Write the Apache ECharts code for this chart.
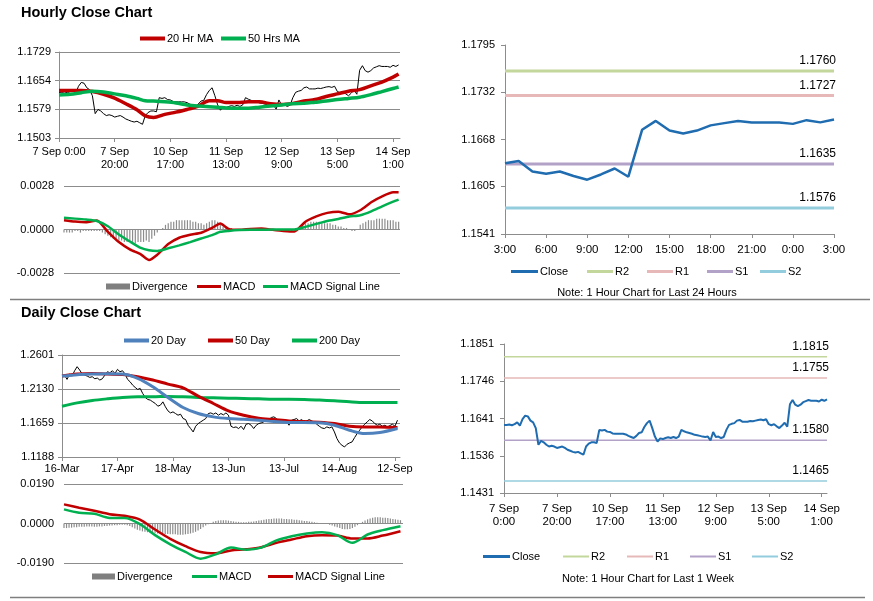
<!DOCTYPE html>
<html>
<head>
<meta charset="utf-8">
<script src="https://cdn.jsdelivr.net/npm/echarts@6/dist/echarts.min.js"></script>
<style>
html, body { margin: 0; padding: 0; background: #fff; }
#chart { width: 873px; height: 601px; }
</style>
</head>
<body>
<div id="chart"></div>
<script>
// hourly closes, 7 Sep 0:00 .. 14 Sep 3:00 (123 bars)
const hourlyClose = [
	1.1623, 1.1623, 1.1624, 1.1622, 1.1625, 1.1630, 1.1621, 1.1639, 1.1649, 1.1647,
	1.1635, 1.1630, 1.1614, 1.1567, 1.1578, 1.1574, 1.1567, 1.1562, 1.1564, 1.1562,
	1.1558, 1.1560, 1.1562, 1.1558, 1.1553, 1.1550, 1.1547, 1.1545, 1.1547, 1.1543,
	1.1539, 1.1562, 1.1570, 1.1574, 1.1574, 1.1572, 1.1609, 1.1607, 1.1609, 1.1604,
	1.1603, 1.1599, 1.1598, 1.1598, 1.1598, 1.1598, 1.1596, 1.1592, 1.1589, 1.1586,
	1.1592, 1.1600, 1.1602, 1.1617, 1.1628, 1.1635, 1.1614, 1.1590, 1.1576, 1.1585,
	1.1583, 1.1586, 1.1588, 1.1586, 1.1589, 1.1586, 1.1590, 1.1609, 1.1605, 1.1602,
	1.1600, 1.1598, 1.1595, 1.1594, 1.1592, 1.1590, 1.1589, 1.1590, 1.1579, 1.1603,
	1.1589, 1.1590, 1.1586, 1.1589, 1.1609, 1.1623, 1.1626, 1.1628, 1.1635, 1.1637,
	1.1632, 1.1632, 1.1632, 1.1634, 1.1633, 1.1635, 1.1637, 1.1638, 1.1636, 1.1639,
	1.1625, 1.1622, 1.1625, 1.1619, 1.1614, 1.1621, 1.1629, 1.1618, 1.1681, 1.1693,
	1.1680, 1.1676, 1.1680, 1.1687, 1.1690, 1.1693, 1.1691, 1.1691, 1.1691, 1.1689,
	1.1694, 1.1691, 1.1695
];
// last 24 hours = last 25 hourly bars
const last24 = hourlyClose.slice(-25);

// moving averages / macd of the hourly chart, read at these bar numbers
const hourSampleIdx = [0, 4, 8, 12, 16, 20, 24, 28, 31, 34, 38, 42, 46, 50, 54, 57, 60, 64, 68, 72, 76, 80, 84, 88, 92, 96, 100, 104, 108, 112, 116, 120, 122];
const ma20Hour = [1.1628, 1.1628, 1.1628, 1.1625, 1.1618, 1.1608, 1.1593, 1.1577, 1.1561, 1.1557, 1.1565, 1.1571, 1.1578, 1.1587, 1.1601, 1.1601, 1.1596, 1.1596, 1.1598, 1.1598, 1.1593, 1.1591, 1.1594, 1.1600, 1.1604, 1.1612, 1.1619, 1.1626, 1.1630, 1.1640, 1.1650, 1.1663, 1.1671];
const ma50Hour = [1.1616, 1.1618, 1.1622, 1.1626, 1.1624, 1.1619, 1.1614, 1.1607, 1.1601, 1.1600, 1.1598, 1.1595, 1.1590, 1.1587, 1.1585, 1.1584, 1.1582, 1.1581, 1.1581, 1.1584, 1.1587, 1.1590, 1.1593, 1.1594, 1.1597, 1.1600, 1.1604, 1.1607, 1.1610, 1.1617, 1.1625, 1.1633, 1.1637];
const macdHour = [0.0006, 0.00051, 0.00047, 0.00058, -0.00015, -0.00081, -0.00128, -0.0016, -0.00196, -0.00162, -0.00094, -0.00053, -0.00034, -0.00021, 0.00011, 0.00038, 0.00004, -0.00002, 0.00004, 0.00006, -0.00002, -0.00009, -0.00013, 0.0005, 0.00085, 0.00107, 0.00115, 0.00098, 0.00124, 0.00175, 0.00213, 0.00239, 0.00239];
const signalHour = [0.00075, 0.0007, 0.00064, 0.00055, 0.00021, -0.00032, -0.00077, -0.00119, -0.00134, -0.00138, -0.00121, -0.00102, -0.00081, -0.00058, -0.00036, -0.00015, -0.00009, -0.00004, -0.00002, -0.00002, 0, 0, 0, 0.00017, 0.00036, 0.00055, 0.00068, 0.00083, 0.00092, 0.00117, 0.00149, 0.00179, 0.00192];
const divergenceHour = [
	-0.0002, -0.0002, -0.0002, -0.0002, -0.0001, -0.0001, -0.0002, -0.0001, -0.0001, -0.0001, -0.0001, -0.0001, -0.0001,
	-0.0001, -0.0002, -0.0003, -0.0004, -0.0005, -0.0006, -0.0006, -0.0007, -0.0007, -0.0008, -0.0008, -0.0008, -0.0008, -0.0009, -0.0008, -0.0008, -0.0008, -0.0007, -0.0008, -0.0006, -0.0004, -0.0002,
	0.0000, 0.0001, 0.0003, 0.0004, 0.0005, 0.0005, 0.0006, 0.0006, 0.0006, 0.0006, 0.0006, 0.0006, 0.0005, 0.0005, 0.0004, 0.0004, 0.0003, 0.0004, 0.0005, 0.0006, 0.0006, 0.0005, 0.0003, 0.0002, 0.0001, 0.0001,
	0.0001, 0, 0, 0, 0, 0, 0.0001, 0.0001, 0.0001, 0.0001, 0, 0, 0, 0, 0, 0, -0.0001, -0.0001, 0, -0.0001, -0.0001, -0.0001, -0.0001, 0, 0.0001,
	0.0002, 0.0003, 0.0004, 0.0004, 0.0005, 0.0005, 0.0005, 0.0005, 0.0004, 0.0004, 0.0004, 0.0004, 0.0003, 0.0003, 0.0002, 0.0002, 0.0001, 0.0001, 0, -0.0001, -0.0001, 0,
	0.0003, 0.0004, 0.0005, 0.0006, 0.0006, 0.0006, 0.0007, 0.0007, 0.0007, 0.0007, 0.0006, 0.0006, 0.0006, 0.0005, 0.0005
];

// daily closes, 16 Mar .. 14 Sep (134 days)
const dailyClose = [
	1.2300, 1.2323, 1.2263, 1.2337, 1.2309, 1.2383, 1.2439, 1.2393, 1.2337, 1.2323,
	1.2309, 1.2291, 1.2300, 1.2272, 1.2281, 1.2254, 1.2272, 1.2323, 1.2369, 1.2355,
	1.2383, 1.2346, 1.2402, 1.2369, 1.2383, 1.2337, 1.2263, 1.2230, 1.2184, 1.2152,
	1.2124, 1.2138, 1.2068, 1.2013, 1.1985, 1.1976, 1.1952, 1.1929, 1.1892, 1.1906,
	1.1952, 1.1883, 1.1827, 1.1799, 1.1813, 1.1790, 1.1767, 1.1781, 1.1721, 1.1707,
	1.1628, 1.1582, 1.1535, 1.1614, 1.1651, 1.1675, 1.1698, 1.1721, 1.1790, 1.1799,
	1.1781, 1.1799, 1.1767, 1.1790, 1.1772, 1.1799, 1.1767, 1.1614, 1.1596, 1.1605,
	1.1582, 1.1614, 1.1568, 1.1642, 1.1651, 1.1628, 1.1582, 1.1628, 1.1651, 1.1661,
	1.1675, 1.1698, 1.1707, 1.1735, 1.1744, 1.1721, 1.1688, 1.1707, 1.1698, 1.1675,
	1.1628, 1.1698, 1.1707, 1.1721, 1.1688, 1.1707, 1.1675, 1.1688, 1.1707, 1.1688,
	1.1670, 1.1642, 1.1614, 1.1591, 1.1582, 1.1605, 1.1591, 1.1605, 1.1535, 1.1443,
	1.1383, 1.1350, 1.1327, 1.1364, 1.1383, 1.1397, 1.1457, 1.1512, 1.1559, 1.1605,
	1.1642, 1.1675, 1.1707, 1.1688, 1.1651, 1.1628, 1.1642, 1.1614, 1.1628, 1.1605,
	1.1624, 1.1642, 1.1614, 1.1698
];
const daySampleIdx = [0, 6, 12, 18, 24, 30, 36, 42, 48, 54, 60, 66, 72, 78, 84, 90, 96, 102, 108, 114, 120, 126, 133];
const ma20Day = [1.2309, 1.2328, 1.2337, 1.2342, 1.2337, 1.2277, 1.2161, 1.2013, 1.1874, 1.1790, 1.1744, 1.1721, 1.1712, 1.1698, 1.1679, 1.1665, 1.1665, 1.1661, 1.1628, 1.1559, 1.1512, 1.1526, 1.1582];
const ma50Day = [1.2309, 1.2337, 1.2346, 1.2337, 1.2332, 1.2300, 1.2254, 1.2198, 1.2147, 1.2031, 1.1929, 1.1827, 1.1767, 1.1725, 1.1707, 1.1688, 1.1679, 1.1670, 1.1651, 1.1614, 1.1605, 1.1605, 1.1596];
const ma200Day = [1.1892, 1.1938, 1.1971, 1.1994, 1.2013, 1.2022, 1.2022, 1.2027, 1.2022, 1.2013, 1.2008, 1.2003, 1.1999, 1.1994, 1.1989, 1.1989, 1.1985, 1.1976, 1.1966, 1.1952, 1.1943, 1.1943, 1.1943];
const macdDay = [0.0068, 0.0052, 0.0047, 0.0027, 0.0027, -0.0003, -0.0056, -0.0100, -0.0137, -0.0169, -0.0148, -0.0116, -0.0126, -0.0116, -0.0081, -0.0061, -0.0048, -0.0042, -0.0056, -0.0093, -0.0053, -0.0032, -0.0013];
const signalDay = [0.0092, 0.0076, 0.0061, 0.0045, 0.0037, 0.0019, -0.0029, -0.0074, -0.0109, -0.0137, -0.0143, -0.0130, -0.0124, -0.0114, -0.0093, -0.0077, -0.0061, -0.0056, -0.0058, -0.0072, -0.0072, -0.0058, -0.0037];
const divergenceDay = [
	-0.0022, -0.0022, -0.0020, -0.0020, -0.0018, -0.0018, -0.0016, -0.0016, -0.0016, -0.0014,
	-0.0014, -0.0014, -0.0016, -0.0016, -0.0014, -0.0014, -0.0012, -0.0012, -0.0010, -0.0010,
	-0.0008, -0.0008, -0.0006, -0.0006, -0.0006, -0.0008, -0.0012, -0.0018, -0.0024, -0.0030,
	-0.0034, -0.0038, -0.0040, -0.0042, -0.0044, -0.0046, -0.0046, -0.0048, -0.0048, -0.0048,
	-0.0050, -0.0050, -0.0052, -0.0052, -0.0052, -0.0054, -0.0054, -0.0054, -0.0052, -0.0050,
	-0.0048, -0.0044, -0.0040, -0.0034, -0.0026, -0.0018, -0.0010, -0.0004, 0.0002, 0.0008,
	0.0012, 0.0014, 0.0016, 0.0016, 0.0016, 0.0014, 0.0012, 0.0010, 0.0008, 0.0008,
	0.0006, 0.0006, 0.0006, 0.0008, 0.0008, 0.0010, 0.0012, 0.0014, 0.0016, 0.0018,
	0.0020, 0.0022, 0.0022, 0.0024, 0.0024, 0.0024, 0.0024, 0.0022, 0.0022, 0.0020,
	0.0020, 0.0018, 0.0018, 0.0016, 0.0014, 0.0012, 0.0012, 0.0010, 0.0008, 0.0006,
	0.0004, 0.0002, 0.0002, 0.0000, -0.0002, -0.0006, -0.0010, -0.0014, -0.0018, -0.0022,
	-0.0026, -0.0028, -0.0028, -0.0026, -0.0022, -0.0016, -0.0008, 0.0000, 0.0008, 0.0014,
	0.0020, 0.0024, 0.0028, 0.0030, 0.0030, 0.0030, 0.0028, 0.0028, 0.0026, 0.0024,
	0.0022, 0.0020, 0.0018, 0.0016
];

// pivot levels R2, R1, S1, S2
const levelNames = ['R2', 'R1', 'S1', 'S2'];
const levels24 = [1.1760, 1.1727, 1.1635, 1.1576];
const levelsWeek = [1.1815, 1.1755, 1.1580, 1.1465];

// axis ticks
const hourPriceTicks = [1.1503, 1.1579, 1.1654, 1.1729];
const hourMacdTicks = [-0.0028, 0, 0.0028];
const last24Ticks = [1.1541, 1.1605, 1.1668, 1.1732, 1.1795];
const dayPriceTicks = [1.1188, 1.1659, 1.2130, 1.2601];
const dayMacdTicks = [-0.0190, 0, 0.0190];
const weekTicks = [1.1431, 1.1536, 1.1641, 1.1746, 1.1851];
const hourLabels = ['7 Sep 0:00', '7 Sep\n20:00', '10 Sep\n17:00', '11 Sep\n13:00', '12 Sep\n9:00', '13 Sep\n5:00', '14 Sep\n1:00'];
const weekLabels = ['7 Sep\n0:00', '7 Sep\n20:00', '10 Sep\n17:00', '11 Sep\n13:00', '12 Sep\n9:00', '13 Sep\n5:00', '14 Sep\n1:00'];
const last24Labels = ['3:00', '6:00', '9:00', '12:00', '15:00', '18:00', '21:00', '0:00', '3:00'];
const dayLabels = ['16-Mar', '17-Apr', '18-May', '13-Jun', '13-Jul', '14-Aug', '12-Sep'];

const FONT = 'Liberation Sans';
const AXIS_CLR = '#8c8c8c';
const RED = '#c00000', GREEN = '#00b050', BLUE = '#1f6cb0', BLUE20 = '#4f81bd', BAR_GRAY = '#8c8c8c';
const LEVEL_CLR = ['#c3d69b', '#e6b9b8', '#b3a2c7', '#93cddd'];

function indexed(ys) { return ys.map((v, i) => [i, v]); }
function pairs(xs, ys) { return ys.map((v, i) => [xs[i], v]); }

function xAx(gi, max, labels, step, margin, fs) {
	let ticks = labels.map((l, i) => i * step);
	return {
		type: 'value', gridIndex: gi, min: 0, max: max,
		axisLine: { show: true, onZero: false, lineStyle: { color: AXIS_CLR } },
		axisTick: { show: true, customValues: ticks, length: 4, lineStyle: { color: AXIS_CLR } },
		axisLabel: {
			customValues: ticks, formatter: v => labels[Math.round(v / step)],
			fontSize: fs || 11, lineHeight: 13, color: '#000', margin: margin
		},
		splitLine: { show: false }
	};
}
function xHidden(gi, max) {
	return { type: 'value', gridIndex: gi, min: 0, max: max, show: false, splitLine: { show: false } };
}
function yAx(gi, ticks, split, line, margin) {
	return {
		type: 'value', gridIndex: gi, min: ticks[0], max: ticks[ticks.length - 1],
		axisLine: { show: line, lineStyle: { color: AXIS_CLR } },
		axisTick: { show: line, customValues: ticks, length: 4, lineStyle: { color: AXIS_CLR } },
		axisLabel: { customValues: ticks, formatter: v => v.toFixed(4), fontSize: 11, color: '#000', margin: margin },
		splitLine: { show: split, lineStyle: { color: AXIS_CLR, width: 1 } }
	};
}
function line(name, gi, data, color, width, smooth) {
	return {
		type: 'line', name: name, xAxisIndex: gi, yAxisIndex: gi, data: data,
		color: color, lineStyle: { color: color, width: width }, showSymbol: false,
		smooth: smooth || false, silent: true
	};
}
function bars(gi, data) {
	return {
		type: 'bar', name: 'Divergence', xAxisIndex: gi, yAxisIndex: gi, data: data,
		barWidth: 1.2, itemStyle: { color: BAR_GRAY }, silent: true
	};
}
// one flat line per pivot level across the whole plot, value written above its right end
function levelLines(gi, values, xmax, width) {
	return levelNames.map((n, i) => {
		let s = line(n, gi, [
			[0, values[i]],
			{ value: [xmax, values[i]], label: { show: true } }
		], LEVEL_CLR[i], width);
		s.showSymbol = true;
		s.symbol = 'circle';
		s.symbolSize = 0;
		s.label = {
			show: false, position: [2, -4], align: 'right', verticalAlign: 'bottom',
			formatter: values[i].toFixed(4), color: '#000', fontSize: 12
		};
		return s;
	});
}
function legendAt(name, color, left, cy, w, h) {
	return {
		left: left, top: cy - 7, padding: 0, itemWidth: w, itemHeight: h, icon: 'rect',
		selectedMode: false, itemGap: 0,
		textStyle: { fontSize: 11, color: '#000', fontFamily: FONT, padding: [0, 0, 0, -3] },
		data: [{ name: name, itemStyle: { color: color } }]
	};
}

const chart = echarts.init(document.getElementById('chart'));

let legends = [
	legendAt('20 Hr MA', RED, 140, 40, 25, 4),
	legendAt('50 Hrs MA', GREEN, 221, 40, 25, 4),
	legendAt('Divergence', '#7f7f7f', 106, 288, 24, 6),
	legendAt('MACD', RED, 197, 288, 24, 3),
	legendAt('MACD Signal Line', GREEN, 263, 288, 25, 3),
	legendAt('Close', BLUE, 511, 273, 27, 3),
	legendAt('20 Day', BLUE20, 124, 342, 25, 4),
	legendAt('50 Day', RED, 208, 342, 25, 4),
	legendAt('200 Day', GREEN, 292, 342, 25, 4),
	legendAt('Divergence', '#7f7f7f', 92, 578, 23, 6),
	legendAt('MACD', GREEN, 192, 578, 25, 3),
	legendAt('MACD Signal Line', RED, 268, 578, 25, 3),
	legendAt('Close', BLUE, 483, 558, 27, 3)
];
const lvlLeft24 = [587, 647, 707, 760];
const lvlLeftWeek = [563, 627, 690, 752];
levelNames.forEach((n, i) => {
	legends.push(legendAt(n, LEVEL_CLR[i], lvlLeft24[i], 273, 26, 3));
	legends.push(legendAt(n, LEVEL_CLR[i], lvlLeftWeek[i], 558, 26, 2));
});

const option = {
	animation: false,
	backgroundColor: '#fff',
	textStyle: { fontFamily: FONT },
	legend: legends,
	grid: [
		{ left: 59, top: 52, width: 341, height: 86 },
		{ left: 64, top: 186, width: 336, height: 87 },
		{ left: 505, top: 45, width: 329, height: 189 },
		{ left: 62, top: 355, width: 338, height: 102 },
		{ left: 64, top: 484, width: 339, height: 79 },
		{ left: 504, top: 344, width: 323, height: 149 }
	],
	xAxis: [
		xAx(0, 122.5, hourLabels, 20, 7),
		xHidden(1, 122.5),
		xAx(2, 24, last24Labels, 3, 9, 11.5),
		xAx(3, 134, dayLabels, 22, 5),
		xHidden(4, 134),
		xAx(5, 122, weekLabels, 20, 9, 11.5)
	],
	yAxis: [
		yAx(0, hourPriceTicks, true, true, 8),
		yAx(1, hourMacdTicks, true, false, 10),
		yAx(2, last24Ticks, false, true, 10),
		yAx(3, dayPriceTicks, true, true, 8),
		yAx(4, dayMacdTicks, true, false, 10),
		yAx(5, weekTicks, false, true, 10)
	],
	series: [
		// hourly close chart
		line('Hourly Close', 0, indexed(hourlyClose), '#000', 1),
		line('20 Hr MA', 0, pairs(hourSampleIdx, ma20Hour), RED, 3.5, 0.3),
		line('50 Hrs MA', 0, pairs(hourSampleIdx, ma50Hour), GREEN, 3.5, 0.3),
		bars(1, indexed(divergenceHour)),
		line('MACD', 1, pairs(hourSampleIdx, macdHour), RED, 2.5, 0.2),
		line('MACD Signal Line', 1, pairs(hourSampleIdx, signalHour), GREEN, 2.5, 0.2)
	].concat(levelLines(2, levels24, 24, 3)).concat([
		// last 24 hours
		line('Close', 2, indexed(last24), BLUE, 2.5),
		// daily close chart
		line('Daily Close', 3, indexed(dailyClose), '#000', 1),
		line('200 Day', 3, pairs(daySampleIdx, ma200Day), GREEN, 3, 0.3),
		line('50 Day', 3, pairs(daySampleIdx, ma50Day), RED, 3, 0.3),
		line('20 Day', 3, pairs(daySampleIdx, ma20Day), BLUE20, 3, 0.3),
		bars(4, indexed(divergenceDay)),
		line('MACD Signal Line', 4, pairs(daySampleIdx, signalDay), RED, 2.5, 0.3),
		line('MACD', 4, pairs(daySampleIdx, macdDay), GREEN, 2.5, 0.3)
	]).concat(levelLines(5, levelsWeek, 122, 1.5)).concat([
		// last week
		line('Close', 5, indexed(hourlyClose), BLUE, 2)
	]),
	graphic: [
		{ type: 'text', left: 21, top: 5, style: { text: 'Hourly Close Chart', font: 'bold 14.5px "Liberation Sans"', fill: '#000' } },
		{ type: 'text', left: 21, top: 305, style: { text: 'Daily Close Chart', font: 'bold 14.5px "Liberation Sans"', fill: '#000' } },
		{ type: 'text', x: 647, y: 293, style: { text: 'Note: 1 Hour Chart for Last 24 Hours', font: '11px "Liberation Sans"', fill: '#000', align: 'center', verticalAlign: 'middle' } },
		{ type: 'text', x: 648, y: 579, style: { text: 'Note: 1 Hour Chart for Last 1 Week', font: '11px "Liberation Sans"', fill: '#000', align: 'center', verticalAlign: 'middle' } },
		{ type: 'line', shape: { x1: 10, y1: 299.5, x2: 870, y2: 299.5 }, style: { stroke: '#7f7f7f', lineWidth: 1.5 } },
		{ type: 'line', shape: { x1: 10, y1: 597.5, x2: 865, y2: 597.5 }, style: { stroke: '#7f7f7f', lineWidth: 1.5 } }
	]
};
chart.setOption(option);
</script>
</body>
</html>
